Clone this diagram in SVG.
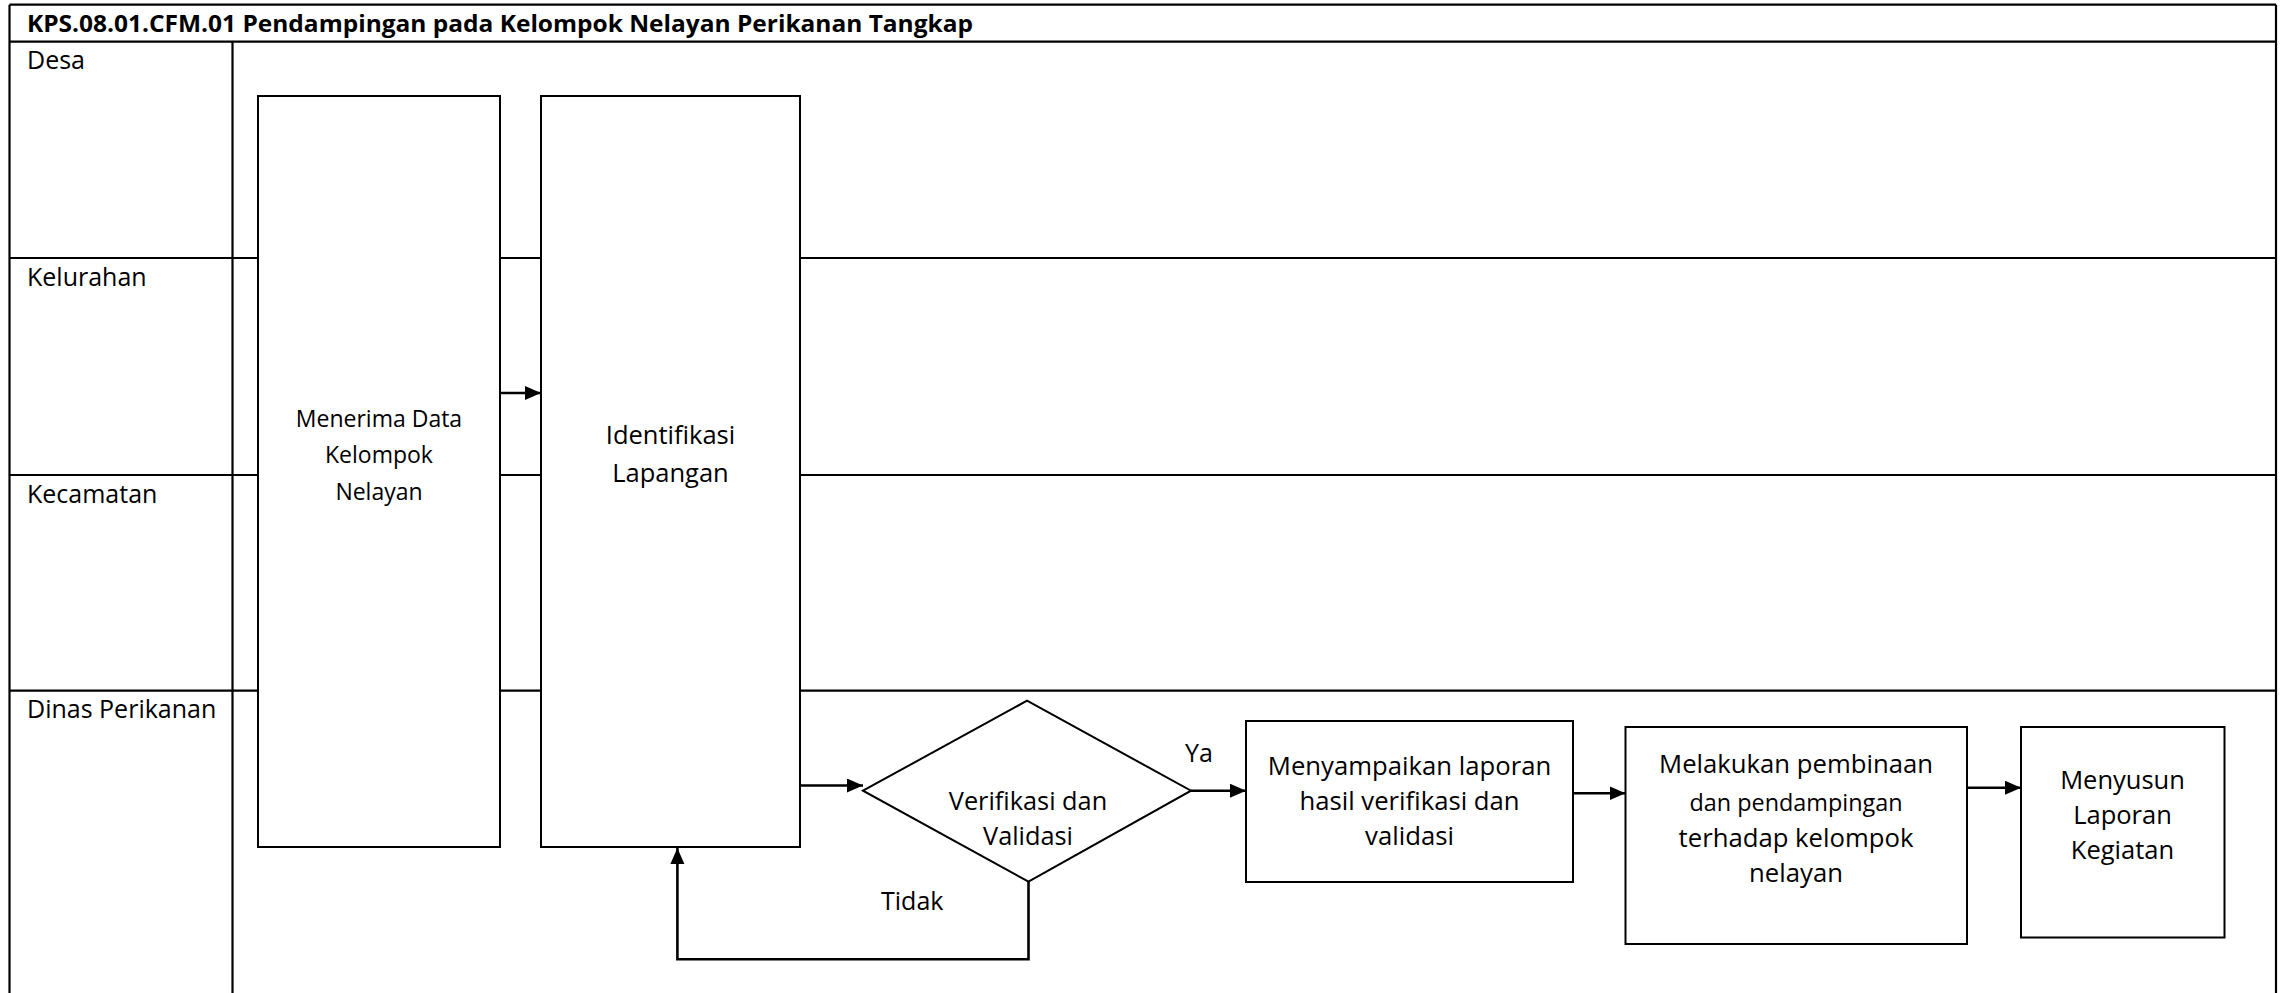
<svg xmlns="http://www.w3.org/2000/svg" width="2289" height="993" viewBox="0 0 2289 993">
<defs>
<style>
.lane{stroke:#000;stroke-width:2.2;fill:none}
.box{fill:#fff;stroke:#000;stroke-width:2}
.t{font-family:"Open Sans","Noto Sans",sans-serif;fill:#000;text-anchor:middle}
.lbl{font-family:"Open Sans","Noto Sans",sans-serif;fill:#000;font-size:25px}
.con{stroke:#000;stroke-width:2.6;fill:none}
</style>
<marker id="ah" markerUnits="userSpaceOnUse" markerWidth="18" markerHeight="16" refX="16" refY="7" orient="auto">
<path d="M0,0 L16,7 L0,14 Z" fill="#000"/>
</marker>
</defs>
<rect width="2289" height="993" fill="#fff"/>
<g id="pool">
<line class="lane" x1="9.5" y1="4.7" x2="2276" y2="4.7"/>
<line class="lane" x1="9.5" y1="4.7" x2="9.5" y2="993"/>
<line class="lane" x1="2276" y1="4.7" x2="2276" y2="993"/>
<line class="lane" x1="9.5" y1="41.7" x2="2276" y2="41.7"/>
<line class="lane" x1="232.5" y1="41.7" x2="232.5" y2="993"/>
<line class="lane" x1="9.5" y1="258" x2="2276" y2="258"/>
<line class="lane" x1="9.5" y1="475" x2="2276" y2="475"/>
<line class="lane" x1="9.5" y1="690.7" x2="2276" y2="690.7"/>
<text x="27" y="31.7" font-family="'Open Sans','Noto Sans',sans-serif" font-weight="bold" font-size="23.5" textLength="946" lengthAdjust="spacingAndGlyphs">KPS.08.01.CFM.01 Pendampingan pada Kelompok Nelayan Perikanan Tangkap</text>
<text class="lbl" x="27" y="69.3">Desa</text>
<text class="lbl" x="27" y="285.5">Kelurahan</text>
<text class="lbl" x="27" y="502.7">Kecamatan</text>
<text class="lbl" x="27" y="718.3">Dinas Perikanan</text>
</g>
<g id="connectors">
<line class="con" x1="500" y1="393" x2="541" y2="393" marker-end="url(#ah)"/>
<line class="con" x1="800" y1="785.5" x2="863" y2="785.5" marker-end="url(#ah)"/>
<line class="con" x1="1191" y1="790.7" x2="1246" y2="790.7" marker-end="url(#ah)"/>
<line class="con" x1="1573" y1="793.3" x2="1625.5" y2="793.3" marker-end="url(#ah)"/>
<line class="con" x1="1967" y1="787.7" x2="2021" y2="787.7" marker-end="url(#ah)"/>
<polyline class="con" points="1028.5,881.7 1028.5,959.3 677.4,959.3 677.4,848" marker-end="url(#ah)"/>
<text class="t" x="1199" y="761.7" font-size="25">Ya</text>
<text x="881" y="910" font-family="'Open Sans','Noto Sans',sans-serif" font-size="25">Tidak</text>
</g>
<g id="n1">
<rect class="box" x="258" y="96" width="242" height="751"/>
<text class="t" font-size="23" x="379"><tspan x="379" y="426.7">Menerima Data</tspan><tspan x="379" y="463.3">Kelompok</tspan><tspan x="379" y="500">Nelayan</tspan></text>
</g>
<g id="n2">
<rect class="box" x="541" y="96" width="259" height="751"/>
<text class="t" font-size="25.5" x="670.5"><tspan x="670.5" y="444">Identifikasi</tspan><tspan x="670.5" y="481.7">Lapangan</tspan></text>
</g>
<g id="n3">
<polygon class="box" points="863,790.7 1027,700.7 1191,790.7 1028.5,881.7"/>
<text class="t" font-size="25.3" x="1028"><tspan x="1028" y="810">Verifikasi dan</tspan><tspan x="1028" y="845">Validasi</tspan></text>
</g>
<g id="n4">
<rect class="box" x="1246" y="721" width="327" height="161"/>
<text class="t" font-size="25.7" x="1409.5"><tspan x="1409.5" y="775">Menyampaikan laporan</tspan><tspan x="1409.5" y="810">hasil verifikasi dan</tspan><tspan x="1409.5" y="845">validasi</tspan></text>
</g>
<g id="n5">
<rect class="box" x="1625.5" y="727" width="341.5" height="217"/>
<text class="t" font-size="25.7" x="1796"><tspan x="1796" y="773.3">Melakukan pembinaan</tspan><tspan x="1796" y="810.5" font-size="23.4">dan pendampingan</tspan><tspan x="1796" y="846.7">terhadap kelompok</tspan><tspan x="1796" y="881.7">nelayan</tspan></text>
</g>
<g id="n6">
<rect class="box" x="2021" y="727" width="203.5" height="210.5"/>
<text class="t" font-size="25.5" x="2122.5"><tspan x="2122.5" y="789.3">Menyusun</tspan><tspan x="2122.5" y="824">Laporan</tspan><tspan x="2122.5" y="859.3">Kegiatan</tspan></text>
</g>
</svg>
